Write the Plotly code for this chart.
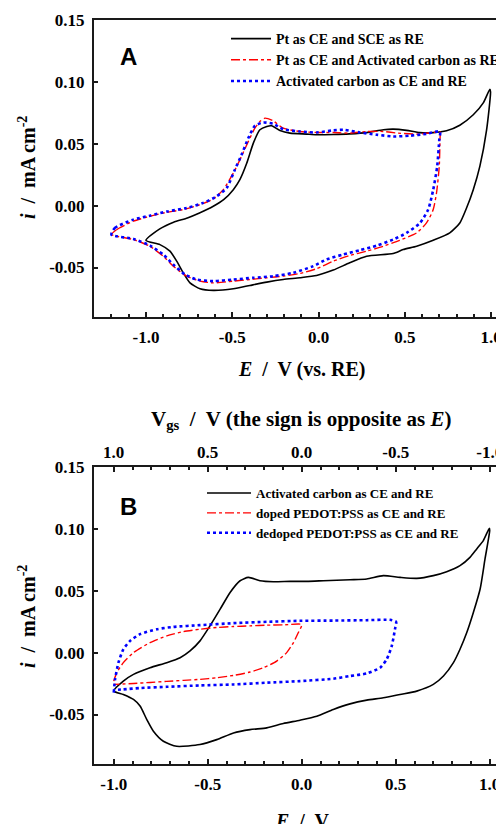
import plotly.graph_objects as go

# ---------------- Panel A data ----------------
a_pt_sce_E = [-1.0, -0.92, -0.84, -0.76, -0.69, -0.61, -0.55, -0.494, -0.456, -0.417, -0.378, -0.34, -0.30, -0.272,
              -0.224, -0.166, -0.07, -0.012, 0.085, 0.18, 0.278, 0.375, 0.432, 0.51, 0.587, 0.664, 0.741, 0.818,
              0.896, 0.954, 0.992,
              0.996, 0.973, 0.934, 0.896, 0.857, 0.818, 0.76, 0.664, 0.568, 0.49, 0.432, 0.278, 0.18, 0.085,
              -0.012, -0.108, -0.205, -0.30, -0.398, -0.494, -0.61, -0.687, -0.745, -0.784, -0.822, -0.861,
              -0.919, -1.0]
a_pt_sce_i = [-0.028, -0.0188, -0.0134, -0.0099, -0.0059, -0.0005, 0.0048, 0.0129, 0.021, 0.034, 0.0505, 0.0613,
              0.064, 0.0645, 0.0608, 0.0586, 0.0578, 0.0573, 0.0575, 0.058, 0.059, 0.0613, 0.0618, 0.0608, 0.059,
              0.059, 0.0605, 0.065, 0.0734, 0.083, 0.094,
              0.092, 0.061, 0.0317, 0.0129, -0.0019, -0.014, -0.022, -0.028, -0.0328, -0.0355, -0.0387, -0.0409,
              -0.0462, -0.0521, -0.0565, -0.0583, -0.0597, -0.0618, -0.0645, -0.0672, -0.0685, -0.0672, -0.0624,
              -0.0543, -0.0449, -0.0368, -0.0315, -0.028]

a_pt_ac_E = [-1.199, -1.17, -1.073, -0.977, -0.88, -0.784, -0.687, -0.61, -0.552, -0.494, -0.456, -0.407, -0.369,
             -0.34, -0.311, -0.263, -0.205, -0.108, -0.012, 0.085, 0.18, 0.278, 0.375, 0.46, 0.568, 0.664, 0.703,
             0.703, 0.699, 0.683, 0.664, 0.625, 0.568, 0.47, 0.375, 0.278, 0.18, 0.085, -0.012, -0.108, -0.205,
             -0.30, -0.398, -0.494, -0.61, -0.687, -0.764, -0.842, -0.90, -0.977, -1.073, -1.199]
a_pt_ac_i = [-0.0234, -0.0194, -0.0126, -0.0086, -0.0054, -0.0032, 0.0008, 0.0054, 0.0129, 0.0263, 0.037, 0.0519,
             0.0626, 0.068, 0.0707, 0.0685, 0.0626, 0.0599, 0.0591, 0.0591, 0.0586, 0.0599, 0.0599, 0.0586,
             0.0578, 0.0591, 0.0599,
             0.0532, 0.0317, 0.0102, -0.0032, -0.014, -0.022, -0.028, -0.0328, -0.0368, -0.0403, -0.0449,
             -0.051, -0.0548, -0.057, -0.0583, -0.0597, -0.061, -0.0624, -0.061, -0.057, -0.0489, -0.0409,
             -0.0328, -0.0274, -0.0234]

a_ac_ac_E = [-1.2, -1.18, -1.073, -0.977, -0.88, -0.764, -0.668, -0.591, -0.533, -0.485, -0.446, -0.407, -0.369,
             -0.32, -0.263, -0.205, -0.108, -0.012, 0.085, 0.143, 0.24, 0.336, 0.432, 0.529, 0.625, 0.703,
             0.699, 0.687, 0.664, 0.635, 0.587, 0.51, 0.432, 0.336, 0.24, 0.143, 0.046, -0.031, -0.147, -0.263,
             -0.378, -0.494, -0.61, -0.707, -0.774, -0.842, -0.90, -0.977, -1.073, -1.2]
a_ac_ac_i = [-0.0234, -0.018, -0.0113, -0.0081, -0.0048, -0.0019, 0.0022, 0.0075, 0.0142, 0.029, 0.0411, 0.0546,
             0.0645, 0.0672, 0.0661, 0.0618, 0.0599, 0.0591, 0.0608, 0.0613, 0.0591, 0.0573, 0.0559, 0.0565,
             0.058, 0.0599,
             0.053, 0.0317, 0.0129, -0.0032, -0.014, -0.022, -0.0274, -0.0323, -0.036, -0.0395, -0.0435,
             -0.0489, -0.0543, -0.057, -0.0583, -0.0597, -0.061, -0.0597, -0.0556, -0.0476, -0.0395, -0.0323,
             -0.0269, -0.0234]

# ---------------- Panel B data ----------------
b_ac_E = [-1.0, -0.949, -0.895, -0.807, -0.718, -0.647, -0.594, -0.541, -0.488, -0.434, -0.381, -0.328, -0.284,
          -0.222, -0.151, -0.062, 0.027, 0.115, 0.257, 0.346, 0.434, 0.523, 0.612, 0.70, 0.771, 0.842, 0.895,
          0.931, 0.966, 0.998,
          1.0, 0.975, 0.949, 0.913, 0.878, 0.842, 0.807, 0.754, 0.70, 0.612, 0.523, 0.434, 0.346, 0.257, 0.168,
          0.08, -0.009, -0.098, -0.186, -0.275, -0.363, -0.452, -0.541, -0.665, -0.736, -0.789, -0.824, -0.86,
          -0.895, -0.949, -1.0]
b_ac_i = [-0.031, -0.023, -0.0176, -0.0122, -0.0081, -0.0041, 0.0014, 0.0095, 0.0216, 0.0351, 0.0486, 0.0581,
          0.0608, 0.0581, 0.0573, 0.0576, 0.0576, 0.0581, 0.0589, 0.0595, 0.0622, 0.0608, 0.060, 0.0622, 0.0654,
          0.0703, 0.077, 0.0838, 0.0905, 0.1005,
          0.0986, 0.0757, 0.0514, 0.0324, 0.0162, 0.0027, -0.0081, -0.0189, -0.0257, -0.0311, -0.0338, -0.0365,
          -0.0384, -0.0414, -0.0459, -0.0514, -0.0546, -0.0573, -0.0608, -0.0622, -0.0649, -0.0703, -0.0743,
          -0.0757, -0.0716, -0.0635, -0.0541, -0.0432, -0.0378, -0.0338, -0.031]

b_doped_E = [-1.0, -0.984, -0.949, -0.895, -0.807, -0.718, -0.629, -0.541, -0.452, -0.363, -0.275, -0.186, -0.098,
             0.0, -0.018, -0.044, -0.08, -0.133, -0.204, -0.275, -0.363, -0.452, -0.541, -0.629, -0.718, -0.807,
             -0.895, -1.0]
b_doped_i = [-0.023, -0.0162, -0.0081, 0.0, 0.0081, 0.0135, 0.017, 0.0189, 0.0203, 0.0211, 0.0216, 0.0222,
             0.0224, 0.0227, 0.0162, 0.0081, 0.0, -0.0068, -0.0122, -0.0157, -0.0184, -0.0203, -0.0216, -0.0224,
             -0.0232, -0.0241, -0.0249, -0.0257]

b_dedoped_E = [-1.0, -0.993, -0.975, -0.949, -0.913, -0.86, -0.771, -0.683, -0.541, -0.363, -0.186, -0.009, 0.168,
               0.346, 0.47, 0.502, 0.496, 0.479, 0.452, 0.417, 0.346, 0.257, 0.168, -0.009, -0.186, -0.363,
               -0.541, -0.718, -0.86, -0.949, -1.0]
b_dedoped_i = [-0.0324, -0.0216, -0.0081, 0.0027, 0.0095, 0.0149, 0.0189, 0.0208, 0.0222, 0.0238, 0.0249,
               0.0257, 0.0259, 0.0262, 0.0265, 0.0249, 0.0189, 0.0054, -0.0054, -0.0122, -0.0168, -0.0189,
               -0.0211, -0.023, -0.0243, -0.0257, -0.0265, -0.0276, -0.0286, -0.0297, -0.0303]

# ---------------- Tick labels ----------------
y_tickvals = [-0.05, 0.0, 0.05, 0.10, 0.15]
y_ticktext = ["-0.05", "0.00", "0.05", "0.10", "0.15"]
x_tickvals = [-1.0, -0.5, 0.0, 0.5, 1.0]
x_ticktext = ["-1.0", "-0.5", "0.0", "0.5", "1.0"]
vgs_tickvals = [1.0, 0.5, 0.0, -0.5, -1.0]
vgs_ticktext = ["1.0", "0.5", "0.0", "-0.5", "-1.0"]
minor_tickvals = [round(-1.2 + 0.1 * k, 1) for k in range(23)]
vgs_minor_tickvals = [round(1.0 - 0.1 * k, 1) for k in range(21)]

legend_a = ["Pt as CE and SCE as RE", "Pt as CE and Activated carbon as RE", "Activated carbon as CE and RE"]
legend_b = ["Activated carbon as CE and RE", "doped PEDOT:PSS as CE and RE", "dedoped PEDOT:PSS as CE and RE"]

# page body has an 8px margin: the figure covers the window from (8, 8)
OFF = 8
W, H = 504 - OFF, 824 - OFF
SERIF = "Liberation Serif"
AXC = "#1a1a1a"


def px(x):
    return (x - OFF) / W


def py(y):
    return 1 - (y - OFF) / H


fig = go.Figure()

styles = [dict(color="black", width=1.6, dash="solid"),
          dict(color="#ff0000", width=1.4, dash="dashdot"),
          dict(color="#0000ff", width=2.6, dash="dot")]

for (xs, ys), name, st in zip([(a_pt_sce_E, a_pt_sce_i), (a_pt_ac_E, a_pt_ac_i), (a_ac_ac_E, a_ac_ac_i)],
                              legend_a, styles):
    fig.add_trace(go.Scatter(x=xs, y=ys, mode="lines", name=name, line=dict(shape="spline", smoothing=0.6, **st),
                             xaxis="x", yaxis="y", legend="legend", hoverinfo="skip"))

for (xs, ys), name, st in zip([(b_ac_E, b_ac_i), (b_doped_E, b_doped_i), (b_dedoped_E, b_dedoped_i)],
                              legend_b, styles):
    fig.add_trace(go.Scatter(x=xs, y=ys, mode="lines", name=name, line=dict(shape="spline", smoothing=0.6, **st),
                             xaxis="x2", yaxis="y2", legend="legend2", hoverinfo="skip"))

# helper trace so that the top (Vgs) axis is drawn
fig.add_trace(go.Scatter(x=[0.0], y=[None], mode="lines", xaxis="x3", yaxis="y2", showlegend=False,
                         hoverinfo="skip"))

x_dom = [px(94), 1.0]
yA = [py(317), py(20)]
yB = [py(764), py(467)]

tickfont = dict(family=SERIF, size=17, color="black", weight="bold")


def xax(rng, anchor, side="bottom", vals=x_tickvals, text=x_ticktext, mirror=False, minor_vals=minor_tickvals,
        standoff=4):
    return dict(domain=x_dom, range=rng, anchor=anchor, side=side, showgrid=False, zeroline=False,
                showline=True, linewidth=2, linecolor=AXC, mirror=mirror,
                tickmode="array", tickvals=vals, ticktext=text, ticks="inside", ticklen=5, tickwidth=1.5,
                tickcolor=AXC, tickfont=tickfont, automargin=False, ticklabelstandoff=standoff,
                minor=dict(tickmode="array", tickvals=minor_vals, ticks="inside", ticklen=3, tickwidth=1.5,
                           tickcolor=AXC, showgrid=False))


def yax(dom, anchor):
    return dict(domain=dom, range=[-0.09, 0.15], anchor=anchor, showgrid=False, zeroline=False,
                showline=True, linewidth=2, linecolor=AXC, mirror=False,
                tickmode="array", tickvals=y_tickvals, ticktext=y_ticktext, ticks="inside", ticklen=4,
                tickwidth=1.5, tickcolor=AXC, tickfont=tickfont, automargin=False, ticklabelstandoff=4)


xaxis3 = xax([1.105, -1.076], "y2", side="top", vals=vgs_tickvals, text=vgs_ticktext,
             minor_vals=vgs_minor_tickvals, standoff=0)
xaxis3["overlaying"] = "x2"

fig.update_layout(
    width=W, height=H, margin=dict(l=0, r=0, t=0, b=0), paper_bgcolor="white", plot_bgcolor="white",
    xaxis=xax([-1.301, 1.074], "y", mirror=True),
    yaxis=yax(yA, "x"),
    xaxis2=xax([-1.105, 1.076], "y2"),
    yaxis2=yax(yB, "x2"),
    xaxis3=xaxis3,
    legend=dict(x=px(226), y=py(23), xanchor="left", yanchor="top", bgcolor="rgba(0,0,0,0)",
                font=dict(family=SERIF, size=14, color="black", weight="bold"), itemwidth=40,
                tracegroupgap=0, itemclick=False),
    legend2=dict(x=px(202), y=py(478), xanchor="left", yanchor="top", bgcolor="rgba(0,0,0,0)",
                 font=dict(family=SERIF, size=13, color="black", weight="bold"), itemwidth=44,
                 tracegroupgap=0, itemclick=False),
    showlegend=True,
)

ann_font = dict(family=SERIF, size=20, color="black", weight="bold")
sp = "&nbsp;"
annotations = [
    dict(text="A", x=px(128), y=py(56.5), font=dict(family="Liberation Sans", size=24, color="black",
                                                    weight="bold")),
    dict(text="B", x=px(128), y=py(506), font=dict(family="Liberation Sans", size=24, color="black",
                                                   weight="bold")),
    dict(text=f"<i>E</i>{sp} /{sp} V (vs. RE)", x=px(302), y=py(369), font=ann_font),
    dict(text=f"<i>i</i>{sp} /{sp} mA cm<sup>-2</sup>", x=px(27), y=py(168), textangle=-90, font=ann_font),
    dict(text=f"V<sub>gs</sub>{sp} /{sp} V (the sign is opposite as <i>E</i>)", x=px(301), y=py(420),
         font=dict(family=SERIF, size=21, color="black", weight="bold")),
    dict(text=f"<i>i</i>{sp} /{sp} mA cm<sup>-2</sup>", x=px(27), y=py(617), textangle=-90, font=ann_font),
    dict(text=f"<i>E</i>{sp} /{sp} V", x=px(302), y=py(821), font=ann_font),
]
for a in annotations:
    a.update(xref="paper", yref="paper", showarrow=False, xanchor="center", yanchor="middle")
fig.update_layout(annotations=annotations)

fig.write_html("out.html")
